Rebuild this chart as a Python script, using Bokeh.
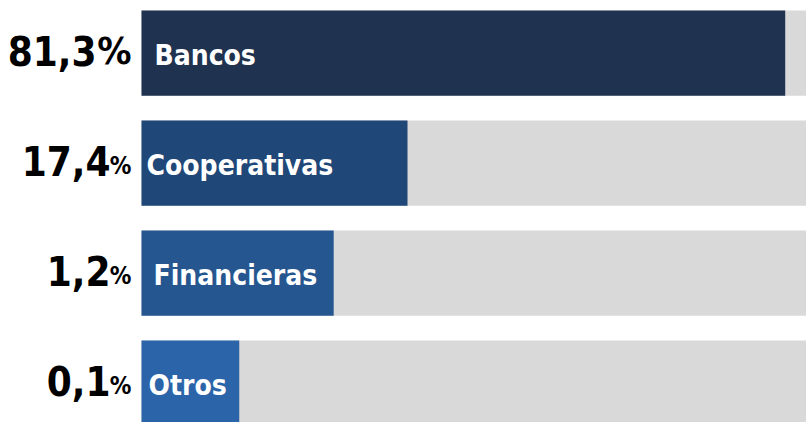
from bokeh.plotting import figure
from bokeh.models import ColumnDataSource, Range1d
from bokeh.core.properties import value
from bokeh.embed import file_html
from bokeh.resources import INLINE

# ---- data ----
categories = ["Bancos", "Cooperativas", "Financieras", "Otros"]
shares = ["81,3", "17,4", "1,2", "0,1"]
bar_lengths = [96.8, 40.0, 28.9, 14.7]   # drawn bar length (track = 100)
track_max = 100

# ---- styles ----
colors = ["#1F3350", "#1F4777", "#26568F", "#2B64A9"]
pct_sizes = ["38px", "24px", "24px", "24px"]
pct_dy = [-2, 3, 3, 3]
num_dx = [-45, -31, -31, -31]
label_dx = [13, 5, 12, 7]
FONT = value("DejaVu Sans Condensed")

rows = list(range(len(categories)))
src = ColumnDataSource(dict(
    y=rows, cat=categories, num=shares, pct=["%"] * len(rows),
    length=bar_lengths, track=[track_max] * len(rows), color=colors,
    pct_size=pct_sizes, pct_dy=pct_dy, num_dx=num_dx, label_dx=label_dx,
))

W, H = 806, 422
p = figure(width=W, height=H, output_backend="svg", toolbar_location=None,
           x_range=Range1d(-141 / 6.65, 100),
           y_range=Range1d(-52.5 / 110 + H / 110, -52.5 / 110),
           min_border=0)
p.axis.visible = False
p.grid.visible = False
p.outline_line_color = None
p.background_fill_color = "white"
p.border_fill_color = "white"

bh = 0.775
p.hbar(y="y", left=0, right="track", height=bh, source=src,
       fill_color="#D9D9D9", line_color=None)
p.hbar(y="y", left=0, right="length", height=bh, source=src,
       fill_color="color", line_color=None)

p.text(x=0, y="y", text="cat", source=src, x_offset="label_dx", y_offset=2,
       text_font=FONT, text_font_style="bold", text_font_size="28px",
       text_color="white", text_align="left", text_baseline="alphabetic")

p.text(x=0, y="y", text="num", source=src, x_offset="num_dx", y_offset=-2,
       text_font=FONT, text_font_style="bold", text_font_size="40px",
       text_color="black", text_align="right", text_baseline="alphabetic")
p.text(x=0, y="y", text="pct", source=src, x_offset=-10, y_offset="pct_dy",
       text_font=FONT, text_font_style="bold", text_font_size="pct_size",
       text_color="black", text_align="right", text_baseline="alphabetic")

open("out.html", "w").write(file_html(p, INLINE))
